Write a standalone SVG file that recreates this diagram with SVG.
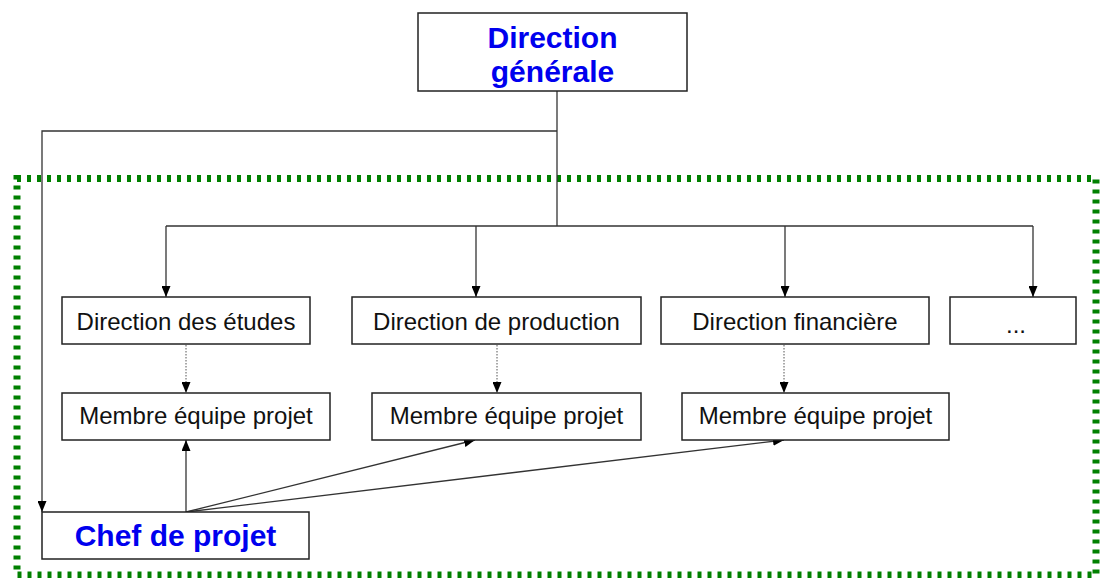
<svg xmlns="http://www.w3.org/2000/svg" width="1107" height="578" viewBox="0 0 1107 578">
<style>
.box{fill:#fff;stroke:#222;stroke-width:1.5}
.t{font-family:"Liberation Sans",Arial,sans-serif;font-size:24px;fill:#111;text-anchor:middle}
.tb{font-family:"Liberation Sans",Arial,sans-serif;font-size:30px;font-weight:bold;fill:#0000ee;text-anchor:middle}
.ln{fill:none;stroke:#333;stroke-width:1.3}
.dot{fill:none;stroke:#555;stroke-width:1;stroke-dasharray:1.5 1.5}
</style>
<defs>
<marker id="ah" markerUnits="userSpaceOnUse" markerWidth="11" markerHeight="9" refX="11" refY="4.5" orient="auto">
<path d="M0,0 L11,4.5 L0,9 Z" fill="#000"/>
</marker>
</defs>
<rect x="0" y="0" width="1107" height="578" fill="#fff"/>
<rect id="perimetre" x="17" y="178.5" width="1079" height="396.5" fill="none" stroke="#008000" stroke-width="7" stroke-dasharray="4 6"/>
<g id="connectors">
<path class="ln" d="M557,91 V226"/>
<path class="ln" d="M557,131 H42 V512" marker-end="url(#ah)"/>
<path class="ln" d="M166,226 H1033"/>
<path class="ln" d="M166,226 V297" marker-end="url(#ah)"/>
<path class="ln" d="M476,226 V297" marker-end="url(#ah)"/>
<path class="ln" d="M785,226 V297" marker-end="url(#ah)"/>
<path class="ln" d="M1033,226 V297" marker-end="url(#ah)"/>
<path class="dot" d="M186,345 V393" marker-end="url(#ah)"/>
<path class="dot" d="M497,345 V393" marker-end="url(#ah)"/>
<path class="dot" d="M784,345 V393" marker-end="url(#ah)"/>
<path class="ln" d="M186,512 V440" marker-end="url(#ah)"/>
<path class="ln" d="M186,512 L475,440" marker-end="url(#ah)"/>
<path class="ln" d="M186,512 L784,440" marker-end="url(#ah)"/>
</g>
<g id="direction-generale">
<rect class="box" x="418" y="13" width="269" height="78"/>
<text class="tb" x="552.5" y="48">Direction</text>
<text class="tb" x="552.5" y="82">générale</text>
</g>
<g id="direction-etudes">
<rect class="box" x="62" y="297" width="248" height="47"/>
<text class="t" x="186" y="330">Direction des études</text>
</g>
<g id="direction-production">
<rect class="box" x="352" y="297" width="289" height="47"/>
<text class="t" x="496.5" y="330">Direction de production</text>
</g>
<g id="direction-financiere">
<rect class="box" x="661" y="297" width="268" height="47"/>
<text class="t" x="795" y="330">Direction financière</text>
</g>
<g id="autres">
<rect class="box" x="950" y="297" width="126" height="47"/>
<text class="t" x="1016" y="333">...</text>
</g>
<g id="membre-1">
<rect class="box" x="62" y="393" width="268" height="47"/>
<text class="t" x="196" y="424">Membre équipe projet</text>
</g>
<g id="membre-2">
<rect class="box" x="372" y="393" width="269" height="47"/>
<text class="t" x="506.5" y="424">Membre équipe projet</text>
</g>
<g id="membre-3">
<rect class="box" x="682" y="393" width="267" height="47"/>
<text class="t" x="815.5" y="424">Membre équipe projet</text>
</g>
<g id="chef-projet">
<rect class="box" x="42" y="512" width="267" height="47"/>
<text class="tb" x="175.5" y="546">Chef de projet</text>
</g>
</svg>
